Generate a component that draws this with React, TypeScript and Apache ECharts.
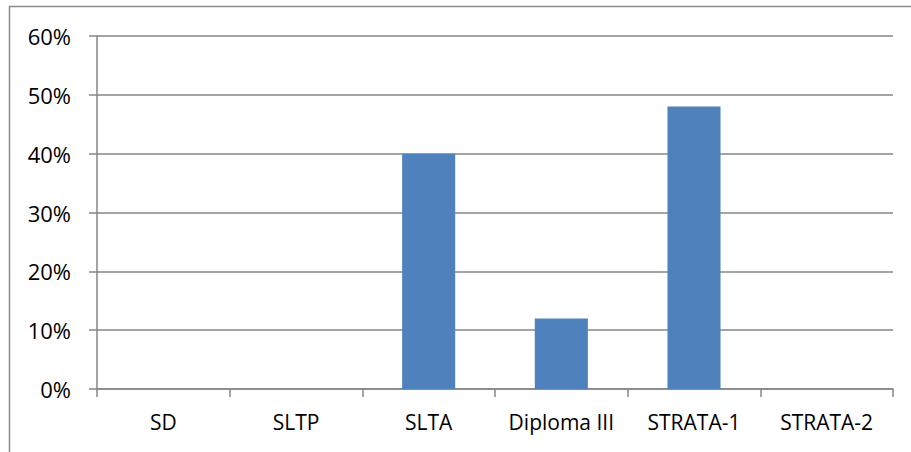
import React, { useEffect, useRef } from "react";
import * as echarts from "echarts";

const categories = ["SD", "SLTP", "SLTA", "Diploma III", "STRATA-1", "STRATA-2"];
const values = [0, 0, 40, 12, 48, 0];
const yTicks = [0, 10, 20, 30, 40, 50, 60];

export default function App() {
  const ref = useRef<HTMLDivElement>(null);
  useEffect(() => {
    if (!ref.current) return;
    const chart = echarts.init(ref.current, undefined, { renderer: "svg" });
    const gray = "#868686";
    const font = "Open Sans";
    chart.setOption({
      animation: false,
      backgroundColor: "#ffffff",
      grid: { left: 97, right: 18, top: 36, bottom: 63, containLabel: false },
      graphic: [
        {
          type: "rect",
          shape: { x: 9.5, y: 6.5, width: 940, height: 480 },
          style: { fill: "none", stroke: "#8c8c8c", lineWidth: 1.5 },
          silent: true,
        },
      ],
      xAxis: {
        type: "category",
        data: categories,
        axisLine: { show: true, lineStyle: { color: gray, width: 1.5 } },
        axisTick: { show: true, interval: 0, length: 8, alignWithLabel: false, lineStyle: { color: gray, width: 1.5 } },
        axisLabel: { color: "#000", fontFamily: font, fontSize: 21, margin: 22, interval: 0, hideOverlap: false },
        splitLine: { show: false },
      },
      yAxis: {
        type: "value",
        min: yTicks[0],
        max: yTicks[yTicks.length - 1],
        interval: 10,
        axisLine: { show: true, lineStyle: { color: gray, width: 1.5 } },
        axisTick: { show: true, length: 8, lineStyle: { color: gray, width: 1.5 } },
        axisLabel: {
          color: "#000",
          fontFamily: font,
          fontSize: 22,
          margin: 26,
          formatter: (v: number) => `${v}%`,
        },
        splitLine: { show: true, lineStyle: { color: gray, width: 1.5 } },
      },
      series: [
        {
          type: "bar",
          data: values,
          barWidth: "40%",
          itemStyle: { color: "#4F81BD" },
        },
      ],
    });
    return () => chart.dispose();
  }, []);
  return (
    <div
      ref={ref}
      style={{ position: "absolute", left: 0, top: 0, width: 911, height: 452 }}
    />
  );
}
